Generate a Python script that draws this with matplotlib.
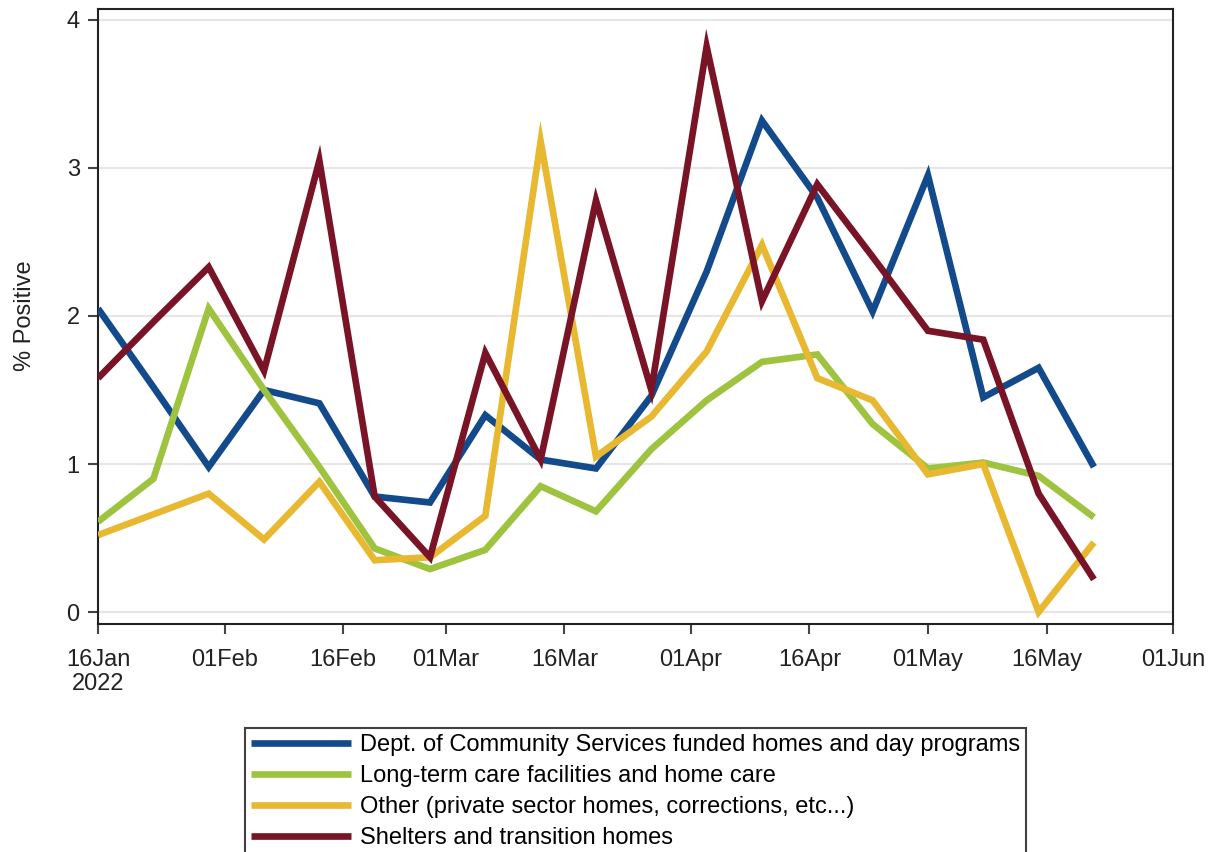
import matplotlib
matplotlib.use("Agg")
import matplotlib.pyplot as plt
import datetime as dt

plt.rcParams['font.family'] = ['Liberation Sans', 'DejaVu Sans']

dates = [dt.date(2022, 1, 16) + dt.timedelta(days=7 * i) for i in range(19)]

dept = [2.05, 1.52, 0.98, 1.50, 1.41, 0.78, 0.74, 1.33, 1.03, 0.97, 1.46, 2.30,
        3.32, 2.80, 2.03, 2.95, 1.45, 1.65, 0.98]
ltc = [0.61, 0.90, 2.05, 1.50, 0.98, 0.43, 0.29, 0.42, 0.85, 0.68, 1.10, 1.43,
       1.69, 1.74, 1.27, 0.97, 1.01, 0.92, 0.64]
other = [0.52, 0.66, 0.80, 0.49, 0.88, 0.35, 0.37, 0.65, 3.18, 1.05, 1.32, 1.76,
         2.48, 1.58, 1.43, 0.93, 1.00, 0.00, 0.47]
shelters = [1.58, 1.96, 2.33, 1.63, 3.05, 0.78, 0.37, 1.75, 1.03, 2.78, 1.50, 3.82,
            2.10, 2.89, 2.40, 1.90, 1.84, 0.80, 0.22]

labels = ["Dept. of Community Services funded homes and day programs",
          "Long-term care facilities and home care",
          "Other (private sector homes, corrections, etc...)",
          "Shelters and transition homes"]
colors = ["#134a8c", "#9dc33f", "#e8b830", "#791427"]

fig = plt.figure(figsize=(12.15, 8.52), dpi=100)
ax = fig.add_axes([0.0807, 0.2676, 0.9654 - 0.0807, 0.9894 - 0.2676])

for ys, lab, c in zip([dept, ltc, other, shelters], labels, colors):
    ax.plot(dates, ys, color=c, lw=4.8, label=lab, solid_joinstyle='miter',
            solid_capstyle='butt', zorder=3)

ax.set_xlim(dt.date(2022, 1, 16), dt.date(2022, 6, 1))
ax.set_ylim(-0.081, 4.074)
ax.set_yticks([0, 1, 2, 3, 4])
ax.yaxis.grid(True, color='#e6e6e6', lw=1.5, zorder=0)
ax.set_axisbelow(True)

ticks = [dt.date(2022, m, d) for m in (1, 2, 3, 4, 5, 6) for d in (1, 16)]
ticks = [t for t in ticks if dt.date(2022, 1, 16) <= t <= dt.date(2022, 6, 1)]
ax.set_xticks(ticks)
tlabels = [t.strftime('%d%b') for t in ticks]
tlabels[0] = tlabels[0] + '\n2022'
ax.set_xticklabels(tlabels, linespacing=1.1)

ax.tick_params(axis='both', labelsize=17, colors='#444444', labelcolor='#222222',
               length=7.2, width=1.5, direction='out')
ax.tick_params(axis='x', pad=11)
ax.tick_params(axis='y', pad=6)
for sp in ax.spines.values():
    sp.set_color('#222222')
    sp.set_linewidth(1.5)

ax.set_ylabel('% Positive', fontsize=17, color='#222222')
ax.yaxis.set_label_coords(-0.0577, 0.502)

leg = fig.legend(loc='upper left', bbox_to_anchor=(245 / 1215, 1 - 728 / 852),
                 fontsize=17, handlelength=4.24, handletextpad=0.38, labelspacing=0.38,
                 frameon=True, fancybox=False, edgecolor='#111111', borderpad=0.25,
                 borderaxespad=0)
leg.get_frame().set_linewidth(1.5)
for l in leg.get_lines():
    l.set_linewidth(4.8)

fig.savefig('out.png', dpi=100)
